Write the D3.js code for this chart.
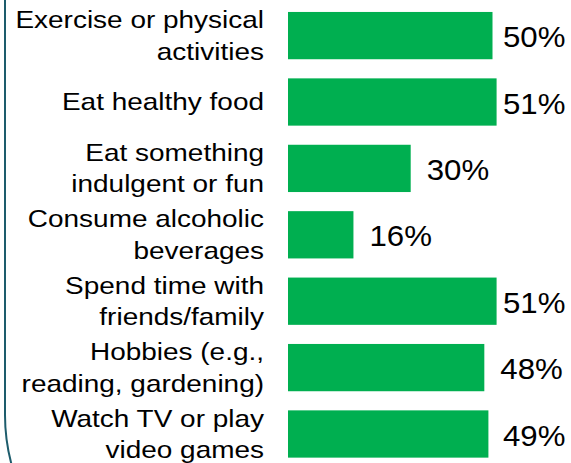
<!DOCTYPE html>
<html>
<head>
<meta charset="utf-8">
<script src="https://cdn.jsdelivr.net/npm/d3@7/dist/d3.min.js"></script>
<style>
  html, body { margin: 0; padding: 0; background: #ffffff; }
  svg { display: block; }
</style>
</head>
<body>
<svg id="chart" width="571" height="463"></svg>
<script>
// Activities people do to take care of themselves (share of respondents)
const categories = [
  "Exercise or physical\nactivities",
  "Eat healthy food",
  "Eat something\nindulgent or fun",
  "Consume alcoholic\nbeverages",
  "Spend time with\nfriends/family",
  "Hobbies (e.g.,\nreading, gardening)",
  "Watch TV or play\nvideo games"
];
const values = [50, 51, 30, 16, 51, 48, 49];

const W = 571, H = 463;
const svg = d3.select("#chart");

// Frame around the panel: only its left side and lower-left corner fall inside the view
svg.append("rect")
  .attr("x", 5).attr("y", -400)
  .attr("width", 900).attr("height", 1005)
  .attr("rx", 190).attr("ry", 190)
  .attr("fill", "none")
  .attr("stroke", "#1d5c6c")
  .attr("stroke-width", 2);

const x = d3.scaleLinear().domain([0, 100]).range([288, 697]);
const y = d3.scaleBand()
  .domain(categories)
  .range([2.4, 467.2])
  .paddingInner(0.288)
  .paddingOuter(0.144);

// Bars
svg.append("g")
  .selectAll("rect")
  .data(values)
  .join("rect")
  .attr("x", x(0))
  .attr("y", (d, i) => y(categories[i]))
  .attr("width", d => x(d) - x(0))
  .attr("height", y.bandwidth())
  .attr("fill", "#00AF50");

// Category labels, right-aligned to the left of the bars
const lineH = 31.5;
const labelG = svg.append("g");
categories.forEach((c, i) => {
  const lines = c.split("\n");
  const cy = y(c) + y.bandwidth() / 2;
  lines.forEach((ln, j) => {
    const base = cy + (j - (lines.length - 1) / 2) * lineH + 8.3;
    labelG.append("text")
      .attr("transform", `translate(264,${base}) scale(1.165,1)`)
      .attr("text-anchor", "end")
      .attr("font-family", "'Liberation Sans', Arial, sans-serif")
      .attr("font-size", 24)
      .attr("fill", "#000000")
      .text(ln);
  });
});

// Value labels at the end of each bar, kept inside the right edge
svg.append("g")
  .selectAll("text")
  .data(values)
  .join("text")
  .attr("transform", (d, i) => {
    const tx = Math.min(x(d) + 16, 503);
    const ty = y(categories[i]) + y.bandwidth() / 2 + 11.5;
    return `translate(${tx},${ty}) scale(1.04,1)`;
  })
  .attr("font-family", "'Liberation Sans', Arial, sans-serif")
  .attr("font-size", 30)
  .attr("fill", "#000000")
  .text(d => d + "%");
</script>
</body>
</html>
